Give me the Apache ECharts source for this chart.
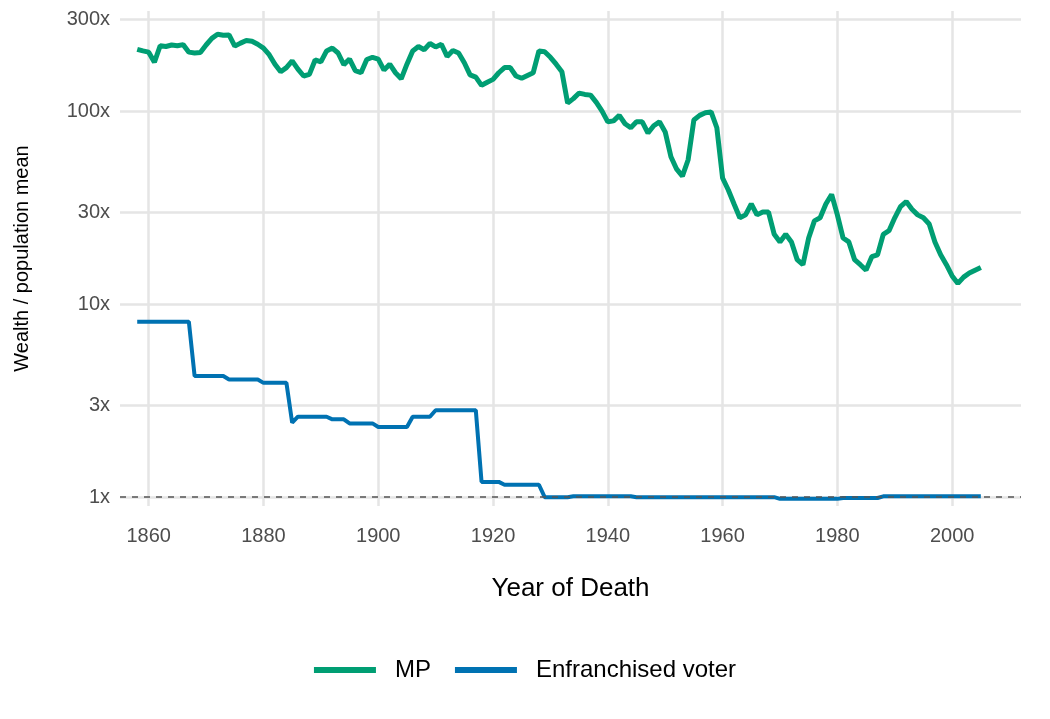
<!DOCTYPE html>
<html>
<head>
<meta charset="utf-8">
<script src="https://cdn.jsdelivr.net/npm/echarts@6/dist/echarts.min.js"></script>
<style>html,body{margin:0;background:#fff}#chart{width:1050px;height:719px}</style>
</head>
<body>
<div id="chart"></div>
<script>
var startYear = 1858;
// MP wealth / population mean, yearly 1858-2005
var mpValues = [209, 205, 202, 179, 218, 216, 220, 218, 221, 202,
  200, 201, 220, 238, 250, 247, 248, 217, 225, 232,
  230, 222, 212, 196, 175, 160, 168, 182, 165, 152,
  155, 184, 180, 205, 212, 200, 174, 186, 162, 158,
  185, 190, 186, 163, 175, 158, 147, 175, 205, 216,
  208, 224, 215, 222, 192, 206, 200, 178, 154, 150,
  136, 141, 146, 158, 168, 168, 152, 148, 153, 158,
  205, 203, 190, 175, 160, 110, 116, 124, 122, 121,
  111, 100, 88, 89, 95, 86, 82, 88, 88, 77,
  84, 88, 78, 58, 50, 46, 56, 90, 95, 98,
  99, 82, 45, 39, 33, 28, 29, 33, 29, 30,
  30, 23, 21, 23, 21, 17, 16, 22, 27, 28,
  33, 37, 29, 22, 21, 17, 16, 15, 17.6, 18,
  23, 24, 28, 32, 34, 31, 29, 28, 26, 21,
  18, 16, 14, 12.8, 13.8, 14.5, 15, 15.5];
// Enfranchised voter, yearly 1858-2005
var voterValues = [8.1, 8.1, 8.1, 8.1, 8.1, 8.1, 8.1, 8.1, 8.1, 8.1,
  4.24, 4.24, 4.24, 4.24, 4.24, 4.24,
  4.07, 4.07, 4.07, 4.07, 4.07, 4.07,
  3.91, 3.91, 3.91, 3.91, 3.91,
  2.43,
  2.61, 2.61, 2.61, 2.61, 2.61, 2.61,
  2.53, 2.53, 2.53,
  2.41, 2.41, 2.41, 2.41, 2.41,
  2.31, 2.31, 2.31, 2.31, 2.31, 2.31,
  2.61, 2.61, 2.61, 2.61,
  2.82, 2.82, 2.82, 2.82, 2.82, 2.82, 2.82, 2.82,
  1.2, 1.2, 1.2, 1.2,
  1.16, 1.16, 1.16, 1.16, 1.16, 1.16, 1.16,
  1.0, 1.0, 1.0, 1.0, 1.0,
  1.01, 1.01, 1.01, 1.01, 1.01, 1.01, 1.01, 1.01, 1.01, 1.01, 1.01,
  1.0, 1.0, 1.0, 1.0, 1.0, 1.0, 1.0, 1.0, 1.0, 1.0, 1.0, 1.0, 1.0,
  1.0, 1.0, 1.0, 1.0, 1.0, 1.0, 1.0, 1.0, 1.0, 1.0, 1.0, 1.0,
  0.98, 0.98, 0.98, 0.98, 0.98, 0.98, 0.98, 0.98, 0.98, 0.98, 0.98,
  0.99, 0.99, 0.99, 0.99, 0.99, 0.99, 0.99,
  1.01, 1.01, 1.01, 1.01, 1.01, 1.01, 1.01, 1.01, 1.01,
  1.01, 1.01, 1.01, 1.01, 1.01, 1.01, 1.01, 1.01, 1.01];
var xTicks = [1860, 1880, 1900, 1920, 1940, 1960, 1980, 2000];
var yTicks = [1, 3, 10, 30, 100, 300];

function pairs(vals) {
  return vals.map(function (v, i) { return [startYear + i, v]; });
}

var chart = echarts.init(document.getElementById('chart'));
var font = 'Liberation Sans, Arial, sans-serif';
chart.setOption({
  animation: false,
  grid: {left: 120, right: 29, top: 11, bottom: 213},
  legend: {
    bottom: 32, left: 'center', itemWidth: 62, itemHeight: 6, itemGap: 24, icon: 'rect',
    textStyle: {fontFamily: font, fontSize: 24, color: '#000', padding: [0, 0, 0, 14]},
    data: ['MP', 'Enfranchised voter']
  },
  xAxis: {
    type: 'value', min: 1855, max: 2012,
    name: 'Year of Death', nameLocation: 'middle', nameGap: 70,
    nameTextStyle: {fontFamily: font, fontSize: 26, color: '#000'},
    axisLine: {show: false},
    axisTick: {show: false, customValues: xTicks},
    axisLabel: {customValues: xTicks, fontFamily: font, fontSize: 20, color: '#4d4d4d', margin: 20,
      formatter: function (v) { return String(v); }},
    splitLine: {show: true, lineStyle: {color: '#e5e5e5', width: 2.5}}
  },
  yAxis: {
    type: 'log', logBase: 10, min: 0.9, max: 330,
    name: 'Wealth / population mean', nameLocation: 'middle', nameGap: 88, nameRotate: 90,
    nameTextStyle: {fontFamily: font, fontSize: 20, color: '#000'},
    axisLine: {show: false},
    axisTick: {show: false, customValues: yTicks},
    axisLabel: {customValues: yTicks, fontFamily: font, fontSize: 20, color: '#4d4d4d', margin: 10,
      formatter: function (v) { return v + 'x'; }},
    splitLine: {show: true, lineStyle: {color: '#e5e5e5', width: 2.5}},
    minorSplitLine: {show: false}
  },
  series: [
    {
      name: 'MP', type: 'line', data: pairs(mpValues), showSymbol: false,
      itemStyle: {color: '#009E73'}, lineStyle: {color: '#009E73', width: 5}, z: 3
    },
    {
      name: 'Enfranchised voter', type: 'line', data: pairs(voterValues), showSymbol: false,
      itemStyle: {color: '#0072B2'}, lineStyle: {color: '#0072B2', width: 4}, z: 3,
      markLine: {
        silent: true, symbol: 'none', label: {show: false},
        lineStyle: {color: '#555', type: [6, 6], width: 1.5},
        data: [{yAxis: 1}]
      }
    }
  ]
});
</script>
</body>
</html>
